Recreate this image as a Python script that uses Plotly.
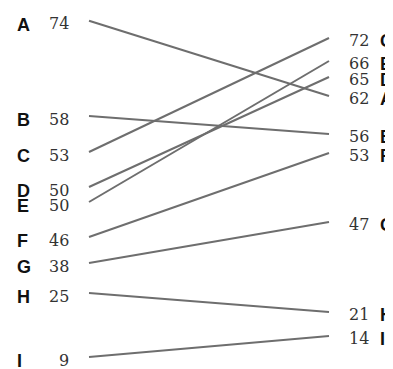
import plotly.graph_objects as go

# categories and values (labels shown)
categories = ["A", "B", "C", "D", "E", "F", "G", "H", "I"]
start_values = [74, 58, 53, 50, 50, 46, 38, 25, 9]
end_values = [62, 56, 72, 65, 66, 53, 47, 21, 14]

# plotted (spread) positions, in rows from the top
start_pos = [20.7, 116, 152, 187, 202, 237, 263, 293, 357]
end_pos = [96, 134, 38, 77, 61, 153, 222, 312, 336]

W, H = 393, 369
OFF = 8  # page body margin
X0_PX, X1_PX = 89, 329
span = X1_PX - X0_PX


def px2x(px):
    return (px - X0_PX) / span


xr = [px2x(OFF), px2x(W + OFF)]

fig = go.Figure()
for c, s, e in zip(categories, start_pos, end_pos):
    fig.add_trace(go.Scatter(
        x=[0, 1], y=[s, e], mode="lines",
        line=dict(color="#6e6e6e", width=2), hoverinfo="skip", showlegend=False))

num_font = dict(family="DejaVu Serif", size=16, color="#333333")
let_font = dict(family="Liberation Sans", size=18, color="#111111")

ann = []
for c, v, p in zip(categories, start_values, start_pos):
    ann.append(dict(x=px2x(71), y=p + 3, text=str(v), showarrow=False,
                    xanchor="right", yanchor="middle", font=num_font))
    ann.append(dict(x=px2x(15), y=p + 4, text=f"<b>{c}</b>", showarrow=False,
                    xanchor="left", yanchor="middle", font=let_font))
for c, v, p in zip(categories, end_values, end_pos):
    ann.append(dict(x=px2x(347), y=p + 2, text=str(v), showarrow=False,
                    xanchor="left", yanchor="middle", font=num_font))
    ann.append(dict(x=px2x(378), y=p + 3, text=f"<b>{c}</b>", showarrow=False,
                    xanchor="left", yanchor="middle", font=let_font))
for a in ann:
    a["xref"] = "x"
    a["yref"] = "y"

fig.update_layout(
    width=W, height=H,
    margin=dict(l=0, r=0, t=0, b=0),
    paper_bgcolor="white", plot_bgcolor="white",
    xaxis=dict(range=xr, visible=False, fixedrange=True),
    yaxis=dict(range=[H + OFF, OFF], visible=False, fixedrange=True),
    annotations=ann,
)
fig.write_html("out.html")
